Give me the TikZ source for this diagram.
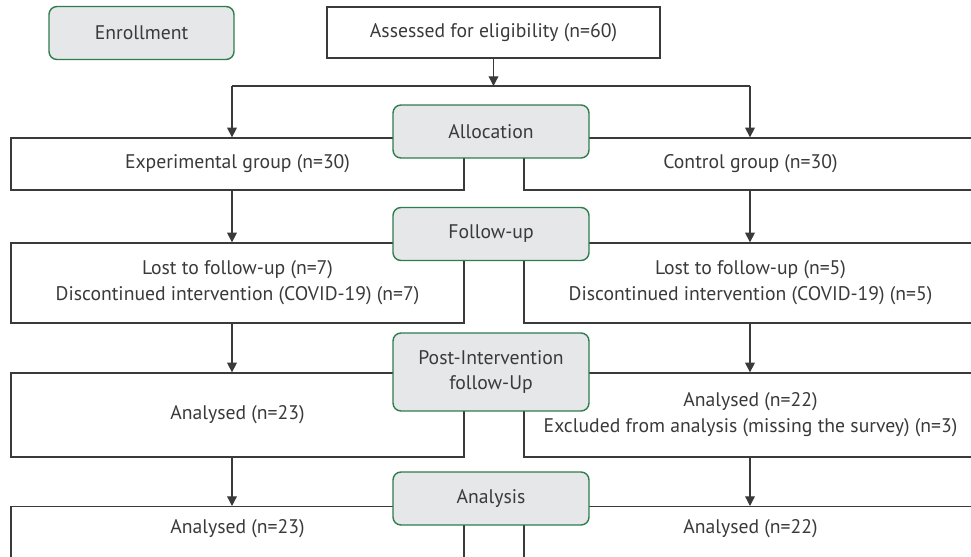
\documentclass[tikz,border=0pt]{standalone}
\usepackage{fontspec}
\setmainfont{PT Sans}
\usetikzlibrary{calc,
	positioning,
	arrows.meta}
\definecolor{phasefill}{HTML}{E6E7E8}
\definecolor{phaseline}{HTML}{2E7D4E}
\definecolor{ink}{HTML}{3A3A3A}
\tikzstyle{phase}=[draw=phaseline, fill=phasefill, rounded corners=4.5pt,
		line width=0.8pt, text=ink, minimum width=3.92cm, minimum height=1.06cm,
		inner sep=0, align=center, font=\fontsize{11.2}{14.7}\selectfont]
\tikzstyle{grp}=[draw=ink, fill=white, line width=0.75pt, text=ink,
		minimum width=9.06cm, inner sep=0, align=center,
		font=\fontsize{11.2}{14.7}\selectfont]
\tikzstyle{flow}=[draw=ink, line width=0.75pt, -{Triangle[length=5.5pt,width=5.5pt]}]
\tikzstyle{link}=[draw=ink, line width=0.75pt]

\begin{document}
\begin{tikzpicture}[x=0.02cm, y=-0.02cm]
                \useasboundingbox (0,0) rectangle (971,557);
                \clip (0,0) rectangle (971,557);
                \node[phase, minimum width=3.7cm] (enroll) at (141.5,33) {Enrollment};
                \node[grp, minimum width=6.66cm, minimum height=1.02cm] (assess) at (493.5,32.5) {Assessed for eligibility (n=60)};
                \coordinate (colL) at (232,86);
                \coordinate (colR) at (750,86);
                \node[grp, minimum height=1.04cm] (exp) at (237.5,164) {Experimental group (n=30)};
                \node[grp, minimum height=1.04cm] (ctrl) at (750.5,164) {Control group (n=30)};
                \node[grp, minimum height=1.6cm] (lostE) at (237.5,283) {Lost to follow-up (n=7)\\Discontinued intervention (COVID-19) (n=7)};
                \node[grp, minimum height=1.6cm] (lostC) at (750.5,283) {Lost to follow-up (n=5)\\Discontinued intervention (COVID-19) (n=5)};
                \node[grp, minimum height=1.68cm] (anaE) at (237.5,415) {Analysed (n=23)};
                \node[grp, minimum height=1.68cm] (anaC) at (750.5,415) {Analysed (n=22)\\Excluded from analysis (missing the survey) (n=3)};
                \node[grp, anchor=north, inner ysep=7.5pt, text depth=60pt] (finE) at (237.5,506) {Analysed (n=23)};
                \node[grp, anchor=north, inner ysep=7.5pt, text depth=60pt] (finC) at (750.5,506) {Analysed (n=22)};
                \draw[flow] (assess.south) -- (assess.south |- colL);
                \draw[link] (colL) -- (colR);
                \draw[flow] (colL) -- (colL |- exp.north);
                \draw[flow] (colR) -- (colR |- ctrl.north);
                \draw[flow] (colL |- exp.south) -- (colL |- lostE.north);
                \draw[flow] (colR |- ctrl.south) -- (colR |- lostC.north);
                \draw[flow] (colL |- lostE.south) -- (colL |- anaE.north);
                \draw[flow] (colR |- lostC.south) -- (colR |- anaC.north);
                \draw[flow] (colL |- anaE.south) -- (colL |- finE.north);
                \draw[flow] (colR |- anaC.south) -- (colR |- finC.north);
                \node[phase] (alloc) at (491,131.5) {Allocation};
                \node[phase] (follow) at (491,234) {Follow-up};
                \node[phase, minimum height=1.56cm] (post) at (491,372) {Post-Intervention\\follow-Up};
                \node[phase] (analysis) at (491,498.5) {Analysis};
\end{tikzpicture}
\end{document}
